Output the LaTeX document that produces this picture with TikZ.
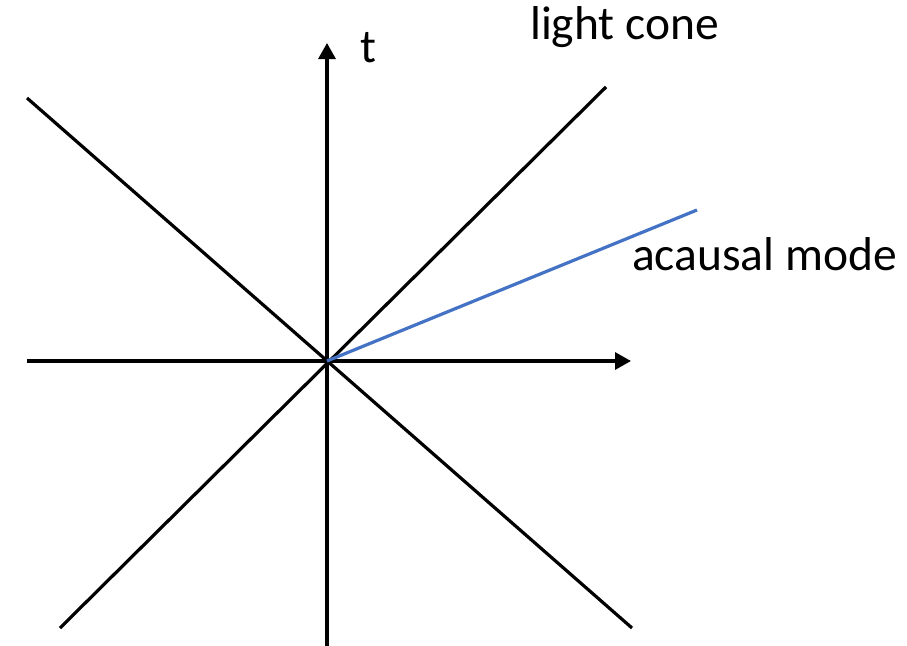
\documentclass[tikz,border=0pt]{standalone}
\usepackage{fontspec}
\setmainfont{Carlito}
\usetikzlibrary{arrows.meta}
\definecolor{acausal}{HTML}{4472C4}
\begin{document}
\begin{tikzpicture}[x=1pt,y=-1pt,
  axis/.style={line width=3.2pt,-{Triangle[length=16pt,width=17pt]}},
  cone/.style={line width=3.2pt,black},
  mode/.style={line width=3.2pt,acausal},
  lbl/.style={anchor=base west,inner sep=0pt,font=\fontsize{47.5}{52}\selectfont}]
\useasboundingbox (0,0) rectangle (907,645);
\coordinate (O) at (327,361);
\coordinate (tb) at (327,650);
\coordinate (tt) at (327,43);
\coordinate (xl) at (27,361);
\coordinate (xr) at (631,361);
\coordinate (ul) at (27,98);
\coordinate (lr) at (632,628);
\coordinate (ll) at (60,628);
\coordinate (ur) at (606,87);
\coordinate (m) at (697,210);
\draw[axis] (tb) -- (tt);
\draw[axis] (xl) -- (xr);
\draw[cone] (ul) -- (lr);
\draw[cone] (ll) -- (ur);
\draw[mode] (O) -- (m);
\node[lbl] (tl) at (360,62) {t};
\node[lbl] (lc) at (530,39) {light cone};
\node[lbl] (am) at (632,270) {acausal mode};
\end{tikzpicture}
\end{document}
